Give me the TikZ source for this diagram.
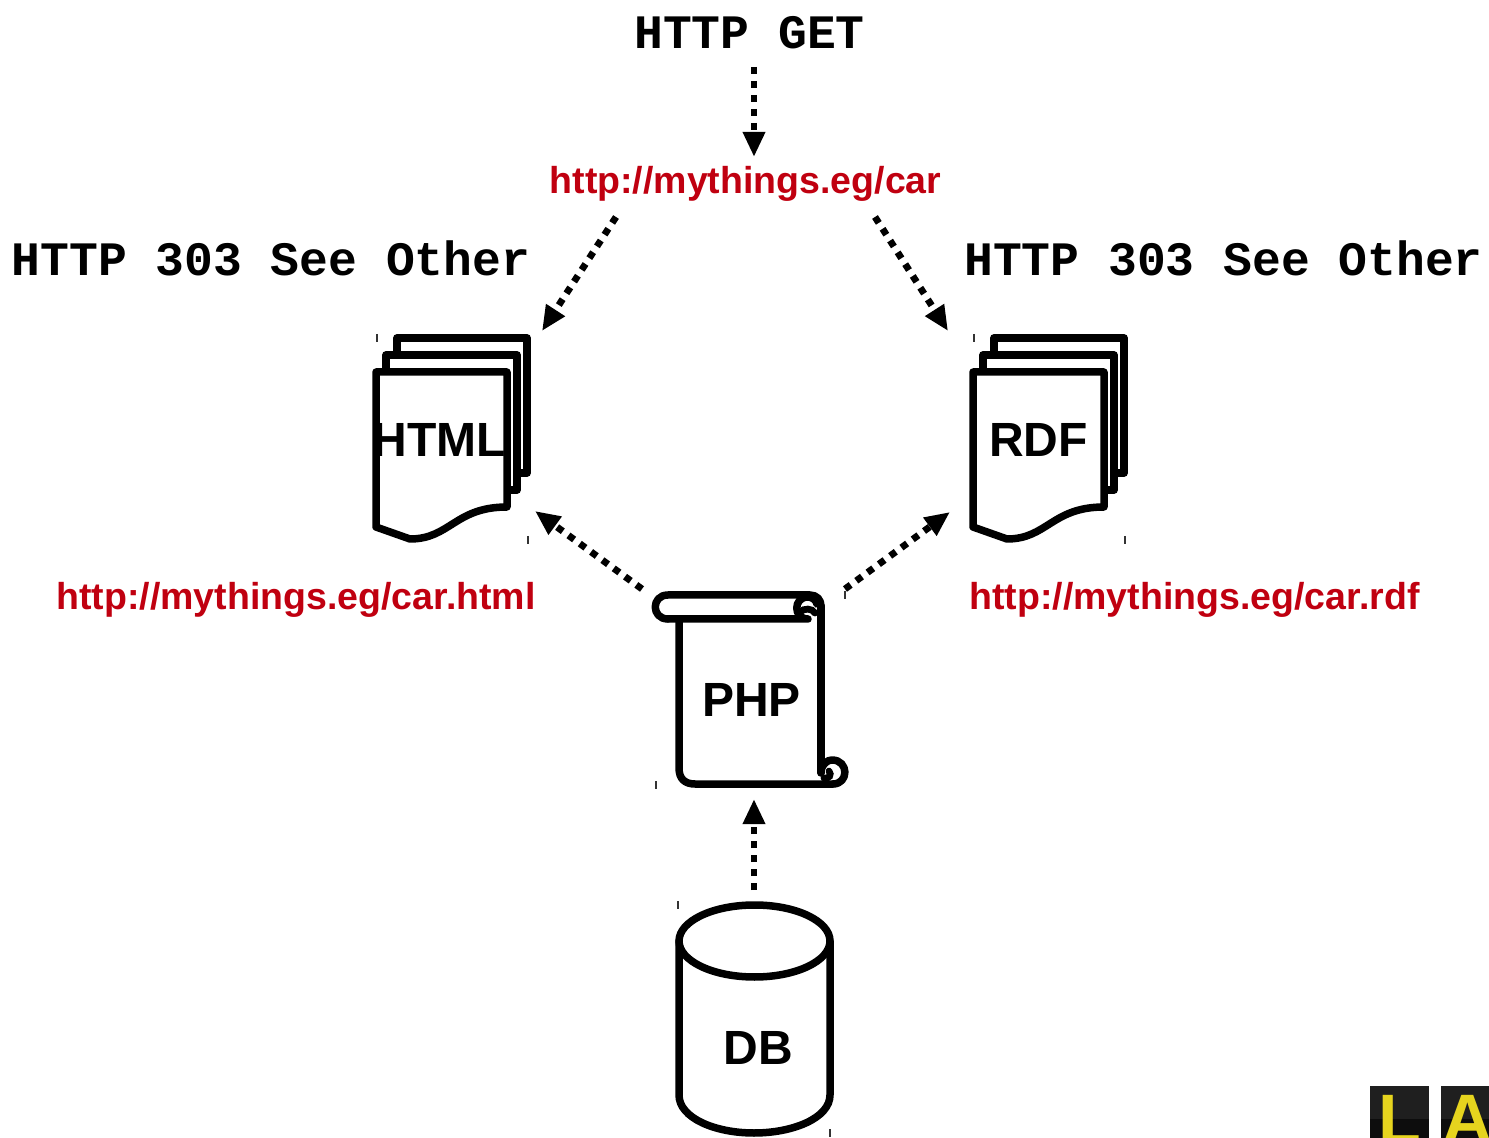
\documentclass[tikz,border=0pt]{standalone}
\usepackage{fontspec}
\setmainfont{Liberation Sans}
\newfontfamily\monof{Liberation Mono}
\usetikzlibrary{arrows.meta}
\definecolor{urlred}{HTML}{C00010}
\definecolor{logoy}{HTML}{E6D41E}
\tikzset{
  shapeline/.style={line width=3.75pt,line join=round,line cap=round,draw=black,fill=white},
  openline/.style={line width=3.75pt,line join=round,line cap=round,draw=black},
  hook/.style={line width=3.4pt,line cap=round,draw=black},
  flow/.style={line width=3.4pt,dash pattern=on 3.5pt off 3.5pt,-{Triangle[length=12.5pt,width=10.5pt]}},
  url/.style={anchor=base,text=urlred,font=\fontsize{18.75}{22}\selectfont\bfseries,inner sep=0pt},
  proto/.style={anchor=base,font=\fontsize{24}{28}\selectfont\monof\bfseries,inner sep=0pt},
  lab/.style={anchor=base,font=\fontsize{24}{28}\selectfont\bfseries,inner sep=0pt},
  tick/.style={line width=0.8pt,draw=black!80},
  logotext/.style={anchor=base,inner sep=0pt,text=logoy,font=\fontsize{35}{40}\selectfont\bfseries}
}
\begin{document}
\begin{tikzpicture}[x=0.5pt,y=-0.5pt]
\useasboundingbox (0,0) rectangle (1489,1138);
% texts
\node[proto] (get) at (749.5,49) {HTTP GET};
\node[url] (car) at (745.5,193.5) {http://mythings.eg/car};
\node[proto] (seeL) at (271,276) {HTTP 303 See Other};
\node[proto] (seeR) at (1223.5,276) {HTTP 303 See Other};
\node[url] (carhtml) at (296,610) {http://mythings.eg/car.html};
\node[url] (carrdf) at (1194.5,610) {http://mythings.eg/car.rdf};
% connector ends
\coordinate (a1) at (754,67);   \coordinate (a2) at (754,157);
\coordinate (b1) at (616,217);  \coordinate (b2) at (542,331);
\coordinate (c1) at (875,217);  \coordinate (c2) at (948,331);
\coordinate (d1) at (642,589);  \coordinate (d2) at (535,511);
\coordinate (e1) at (845,589);  \coordinate (e2) at (950,512);
\coordinate (f1) at (754,890);  \coordinate (f2) at (754,799);
\foreach \s/\t in {a1/a2,b1/b2,c1/c2,d1/d2,e1/e2,f1/f2} \draw[flow] (\s) -- (\t);
% document stacks
\foreach \dx in {0,597}{
\begin{scope}[xshift=\dx*0.5pt]
  \draw[shapeline] (397,355) -- (397,338) -- (527,338) -- (527,473) -- (517,473);
  \draw[shapeline] (386,372) -- (386,355) -- (517,355) -- (517,490) -- (507,490);
  \draw[shapeline] (376,372) -- (507,372) -- (507,507)
     .. controls (455,507) and (450,539) .. (410,539)
     -- (376,527) -- cycle;
  \draw[tick] (377,334) -- (377,342) (528,536) -- (528,544);
\end{scope}}
\node[lab] (html) at (439.5,457) {HTML};
\node[lab] (rdf) at (1038.5,457) {RDF};
% scroll: body
\draw[openline] (679,619) -- (679,768)
  .. controls (679,779) and (685,784) .. (695,784) -- (833,784);
\draw[openline] (821,606) -- (821,773);
% scroll: top roll
\draw[openline] (668,619)
  .. controls (651,619) and (651,595) .. (668,595) -- (810,595)
  .. controls (817,595) and (821,600) .. (821,606);
\draw[openline] (668,619) -- (808,619)
  .. controls (793,619) and (793,597) .. (808,597)
  .. controls (812,597) and (816,600) .. (817,604);
\draw[hook] (800,612) .. controls (804,608) and (812,608) .. (815,613);
% scroll: bottom curl
\draw[openline] (833,784)
  .. controls (849,784) and (849,760) .. (832,760)
  .. controls (827,760) and (823,764) .. (821,770);
\draw[hook] (824,778) .. controls (829,779) and (832,775) .. (829,771);
\draw[tick] (656,781) -- (656,789) (845,591) -- (845,599);
\node[lab] (php) at (751.5,717) {PHP};
% database
\draw[shapeline] (679,941) -- (679,1095)
  .. controls (679,1118) and (715,1133) .. (754,1133)
  .. controls (793,1133) and (830,1118) .. (830,1095) -- (830,941);
\draw[shapeline] (754.5,941) ellipse[x radius=75.5,y radius=36];
\draw[tick] (678,901) -- (678,909) (830,1129) -- (830,1137);
\node[lab] (db) at (758.5,1064) {DB};
% logo
\begin{scope}
  \clip (0,0) rectangle (1489,1138);
  \fill[black!88] (1370,1086) rectangle (1429,1138);
  \fill[black!88] (1441,1086) rectangle (1489,1138);
  \fill[black!95] (1370,1119) rectangle (1429,1138);
  \fill[black!95] (1441,1119) rectangle (1489,1138);
  \node[logotext] (logoL) at (1400,1143) {L};
  \node[logotext] (logoA) at (1467.5,1143) {A};
\end{scope}
\end{tikzpicture}
\end{document}
